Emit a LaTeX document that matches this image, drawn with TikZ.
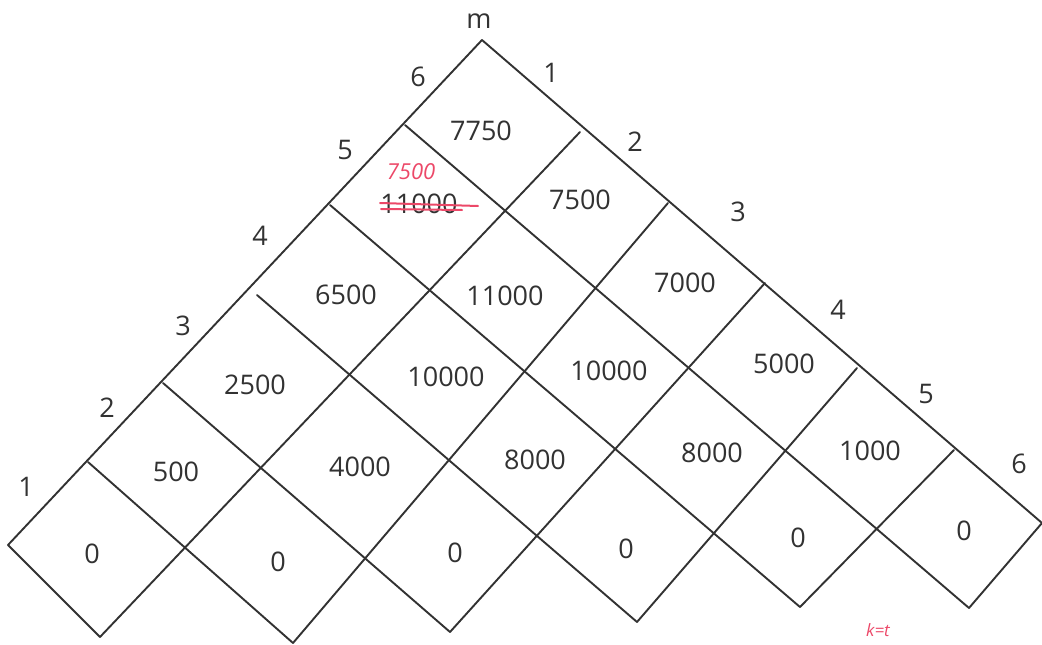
\documentclass[tikz,border=0pt]{standalone}
\usepackage{fontspec}
\setmainfont{Open Sans}
\usepackage{xcolor}
\definecolor{pencil}{RGB}{50,50,50}
\definecolor{penred}{RGB}{236,72,104}

\begin{document}
\begin{tikzpicture}[
      x=1pt, y=-1pt,
      gridline/.style={draw=pencil, line width=1.9pt, line cap=round},
      val/.style={text=pencil, font=\fontsize{27}{32}\selectfont, inner sep=0pt},
      idx/.style={text=pencil, font=\fontsize{27}{32}\selectfont, inner sep=0pt},
      fix/.style={text=penred, font=\itshape\fontsize{22}{26}\selectfont, inner sep=0pt},
      strike/.style={draw=penred, line width=2pt, line cap=round}
    ]
      \useasboundingbox (0,0) rectangle (1042,645);
      \clip (0,0) rectangle (1042,645);

      % corners on the left edge
      \coordinate (L0) at (8,545);
      \coordinate (L1) at (88,462);
      \coordinate (L2) at (163,383);
      \coordinate (L3) at (257,295);
      \coordinate (L4) at (330,205);
      \coordinate (L5) at (405,125);
      \coordinate (L6) at (482,40);
      % corners along the bottom
      \coordinate (B1) at (100,637);
      \coordinate (B2) at (293,643);
      \coordinate (B3) at (450,632);
      \coordinate (B4) at (637,622);
      \coordinate (B5) at (800,607);
      \coordinate (B6) at (969,608);
      % corners on the right edge
      \coordinate (R1) at (580,132);
      \coordinate (R2) at (668,203);
      \coordinate (R3) at (765,283);
      \coordinate (R4) at (857,368);
      \coordinate (R5) at (954,450);
      \coordinate (R6) at (1042,523);

      % rising lines
      \draw[gridline] (L0) -- (L6);
      \draw[gridline] (B1) -- (R1);
      \draw[gridline] (B2) -- (R2);
      \draw[gridline] (B3) -- (R3);
      \draw[gridline] (B4) -- (R4);
      \draw[gridline] (B5) -- (R5);
      \draw[gridline] (B6) -- (R6);
      % falling lines
      \draw[gridline] (L0) -- (B1);
      \draw[gridline] (L1) -- (B2);
      \draw[gridline] (L2) -- (B3);
      \draw[gridline] (L3) -- (B4);
      \draw[gridline] (L4) -- (B5);
      \draw[gridline] (L5) -- (B6);
      \draw[gridline] (L6) -- (R6);

      % edge indices
      \node[idx] (top) at (479,21) {m};
      \node[idx] (left1) at (26,487) {1};
      \node[idx] (left2) at (107,408) {2};
      \node[idx] (left3) at (183,326) {3};
      \node[idx] (left4) at (260,236) {4};
      \node[idx] (left5) at (345,150) {5};
      \node[idx] (left6) at (418,77) {6};
      \node[idx] (right1) at (551,73) {1};
      \node[idx] (right2) at (635,142) {2};
      \node[idx] (right3) at (738,212) {3};
      \node[idx] (right4) at (838,310) {4};
      \node[idx] (right5) at (926,394) {5};
      \node[idx] (right6) at (1019,464) {6};

      % cell values, top row first
      \node[val] (c61) at (481,131) {7750};
      \node[val] (c51) at (419,204) {11000};
      \node[val] (c52) at (580,200) {7500};
      \node[val] (c41) at (346,295) {6500};
      \node[val] (c42) at (505,296) {11000};
      \node[val] (c43) at (685,283) {7000};
      \node[val] (c31) at (255,385) {2500};
      \node[val] (c32) at (446,377) {10000};
      \node[val] (c33) at (609,371) {10000};
      \node[val] (c34) at (784,364) {5000};
      \node[val] (c21) at (176,472) {500};
      \node[val] (c22) at (360,467) {4000};
      \node[val] (c23) at (535,460) {8000};
      \node[val] (c24) at (712,453) {8000};
      \node[val] (c25) at (870,451) {1000};
      \node[val] (c11) at (92,554) {0};
      \node[val] (c12) at (278,562) {0};
      \node[val] (c13) at (455,553) {0};
      \node[val] (c14) at (626,549) {0};
      \node[val] (c15) at (798,538) {0};
      \node[val] (c16) at (964,531) {0};

      % red correction
      \node[fix] (new51) at (411,172) {7500};
      \draw[strike] (380,203) -- (478,206);
      \draw[strike] (381,209) -- (462,210);
      \node[fix, font=\itshape\fontsize{17}{20}\selectfont] (note) at (878,630) {k=t};
    \end{tikzpicture}
\end{document}
